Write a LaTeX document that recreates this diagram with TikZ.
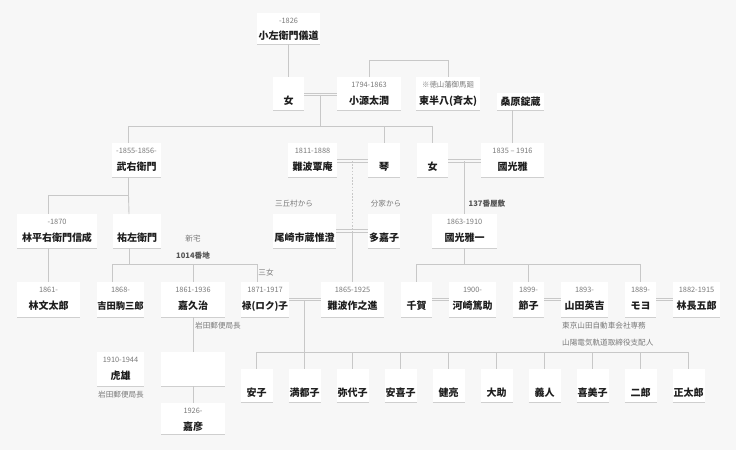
\documentclass[tikz,border=0pt]{standalone}
\usepackage{fontspec}
\setmainfont{Noto Sans CJK JP}
\definecolor{bg}{HTML}{F7F7F7}
\definecolor{ln}{HTML}{C8C8C8}
\definecolor{bl}{HTML}{CFCFCF}
\definecolor{dt}{HTML}{7A7A7A}
\definecolor{nm}{HTML}{1E1E1E}
\definecolor{bn}{HTML}{555555}
\tikzset{
  pbox/.style={fill=white, draw=none, inner sep=0pt, outer sep=0pt},
  bline/.style={draw=bl, line width=0.9pt},
  datet/.style={font=\fontsize{7.4}{9}\selectfont, text=dt, inner sep=0pt},
  namet/.style={font=\fontsize{10}{12}\selectfont\bfseries, text=nm, inner sep=0pt},
  notet/.style={font=\fontsize{7.6}{9}\selectfont, text=dt, inner sep=0pt},
  boldnote/.style={font=\fontsize{7.6}{9}\selectfont\bfseries, text=bn, inner sep=0pt},
  link/.style={draw=ln, line width=0.9pt},
  dotlink/.style={draw=ln, line width=0.9pt, dash pattern=on 1.6pt off 1.6pt},
}
% id, x1, x2, ytop, ybot, date, name
\newcommand\person[7]{%
  \node[pbox, minimum width={(#3)-(#2)}, minimum height={(#5)-(#4)}, anchor=north west] (#1) at (#2,#4) {};
  \draw[bline] (#1.south west) -- (#1.south east);
  \node[datet] (#1-d) at ([yshift=-7.5pt]#1.north) {#6};
  \node[namet] (#1-n) at ([yshift=-24pt]#1.north) {#7};
}
% double marriage line between two nodes, offset dy from centre
\newcommand\marry[3]{%
  \draw[link] ([yshift=#3+1.1pt]#1.east) -- ([yshift=#3+1.1pt]#1.east -| #2.west);
  \draw[link] ([yshift=#3-1.1pt]#1.east) -- ([yshift=#3-1.1pt]#1.east -| #2.west);
}
\begin{document}
\begin{tikzpicture}[x=1pt,y=-1pt]
\fill[bg] (0,0) rectangle (736,450);
\useasboundingbox (0,0) rectangle (736,450);

% row 1
\node[pbox, minimum width=63, minimum height=31, anchor=north west] (kozaemon) at (257,13) {};
\draw[bline] (kozaemon.south west) -- (kozaemon.south east);
\node[datet] (kozaemon-d) at (288.5,20.5) {-1826};
\node[namet] (kozaemon-n) at (288.5,36) {小左衛門儀道};

% row 2
\person{onnaA}{273}{304}{77}{110}{}{女}
\person{kogenta}{337}{401}{77}{110}{1794-1863}{小源太潤}
\person{higashi}{416}{480}{77}{110}{※徳山藩御馬廻}{東半八(斉太)}
\node[pbox, minimum width=47, minimum height=17, anchor=north west] (kuwabara) at (497,93) {};
\draw[bline] (kuwabara.south west) -- (kuwabara.south east);
\node[namet] (kuwabara-n) at (520.5,101.5) {桑原錠蔵};

% row 3
\person{takeemon}{112}{161}{143}{177}{-1855-1856-}{武右衛門}
\person{nanbaT}{288}{337}{143}{177}{1811-1888}{難波覃庵}
\person{koto}{368}{400}{143}{177}{}{琴}
\person{onnaB}{417}{448}{143}{177}{}{女}
\person{kunimitsu}{481}{544}{143}{177}{1835 – 1916}{國光雅}

% row 4
\person{hayashiH}{17}{97}{214}{248}{-1870}{林平右衛門信成}
\person{yuzaemon}{113}{161}{214}{248}{}{祐左衛門}
\person{ozaki}{273}{336}{214}{248}{}{尾崎市蔵惟澄}
\person{takako}{368}{400}{214}{248}{}{多嘉子}
\person{kunimitsuI}{432}{497}{214}{248}{1863-1910}{國光雅一}

% row 5
\person{buntaro}{17}{80}{282}{317}{1861-}{林文太郎}
\person{yoshida}{97}{144}{282}{317}{1868-}{{\fontsize{9.3}{11}\selectfont 吉田駒三郎}}
\person{kakuji}{161}{225}{282}{317}{1861-1936}{嘉久治}
\person{roku}{241}{289}{282}{317}{1871-1917}{{\fontsize{9.6}{11}\selectfont 禄(ロク)子}}
\person{nanbaS}{321}{384}{282}{317}{1865-1925}{難波作之進}
\person{chika}{401}{432}{282}{317}{}{千賀}
\person{kawasaki}{449}{496}{282}{317}{1900-}{河崎篤助}
\person{setsuko}{513}{544}{282}{317}{1899-}{節子}
\person{yamada}{561}{608}{282}{317}{1893-}{山田英吉}
\person{moyo}{625}{656}{282}{317}{1889-}{モヨ}
\person{choGoro}{673}{720}{282}{317}{1882-1915}{林長五郎}

% row 6
\person{torao}{97}{144}{352}{386}{1910-1944}{虎雄}
\person{blank}{161}{225}{352}{386}{}{}

% row 8
\person{yoshihiko}{161}{225}{403}{434}{1926-}{嘉彦}

% children of roku / nanbaS
\foreach \t [count=\i] in {安子,満都子,弥代子,安喜子,健亮,大助,義人,喜美子,二郎,正太郎}{
  \pgfmathsetmacro\xa{240.7+48*(\i-1)}
  \pgfmathsetmacro\xb{\xa+32}
  \person{c\i}{\xa}{\xb}{369}{402}{}{\t}
}

% notes
\node[notet] (n-shintaku) at (193,239) {新宅};
\node[boldnote] (n-1014) at (193,256) {1014番地};
\node[notet] (n-sanjo) at (266,273) {三女};
\node[notet] (n-mitsuoka) at (294,203.5) {三丘村から};
\node[notet] (n-bunke) at (386,203.5) {分家から};
\node[boldnote] (n-137) at (487,204) {137番屋敷};
\node[notet, anchor=west] (n-iwataA) at (195,326) {岩田郵便局長};
\node[notet, anchor=west] (n-iwataB) at (98,394.5) {岩田郵便局長};
\node[notet, anchor=west] (n-tokyo) at (562,326) {東京山田自動車会社専務};
\node[notet, anchor=west] (n-sanyo) at (562,342.5) {山陽電気軌道取締役支配人};

% junction coordinates
\coordinate (m1) at (320,94.6);
\coordinate (bar1) at (0,126);
\coordinate (mNK) at (352.5,161);
\coordinate (mOK) at (352.5,232.1);
\coordinate (mKK) at (464.5,161);
\coordinate (mRN) at (304,300.6);
\coordinate (bar2) at (0,195.3);
\coordinate (bar3) at (0,264.3);
\coordinate (bar4) at (0,264.3);
\coordinate (kidbar) at (0,352);
\coordinate (sib) at (0,60.3);
\coordinate (tkS) at ([xshift=-8pt]takeemon.south);
\coordinate (tkN) at ([xshift=-8pt]takeemon.north);
\coordinate (yzN) at ([xshift=-8pt]yuzaemon.north);
\coordinate (yzS) at ([xshift=-8pt]yuzaemon.south);
\coordinate (ydN) at ([xshift=-8pt]yoshida.north);
\coordinate (rkN) at ([xshift=-8pt]roku.north);
\coordinate (hhN) at (buntaro.north |- hayashiH.north);
\coordinate (hhS) at (buntaro.north |- hayashiH.south);

% connectors
\draw[link] (kozaemon.south) -- (onnaA.north);
\draw[link] (kogenta.north) -- (kogenta.north |- sib) -- (higashi.north |- sib) -- (higashi.north);
\marry{onnaA}{kogenta}{-0.8pt}
\draw[link] (m1) -- (m1 |- bar1);
\draw[link] (tkN |- bar1) -- (onnaB.north |- bar1);
\draw[link] (tkN |- bar1) -- (tkN);
\draw[link] (koto.north |- bar1) -- (koto.north);
\draw[link] (onnaB.north |- bar1) -- (onnaB.north);
\marry{nanbaT}{koto}{-1pt}
\draw[dotlink] (mNK) -- (mOK);
\marry{onnaB}{kunimitsu}{-1pt}
\draw[link] (mKK) -- (mKK |- kunimitsuI.north);
\draw[link] (kunimitsu.north) -- (kunimitsu.north |- kuwabara.south);
\marry{ozaki}{takako}{0pt}
\draw[link] (mOK) -- (nanbaS.north);

\draw[link] (tkS) -- (tkS |- bar2) -- (hhN |- bar2) -- (hhN);
\draw[link] (tkS |- bar2) -- (yzN);
\draw[link] (hhS) -- (buntaro.north);

\draw[link] (yzS) -- (yzS |- bar3);
\draw[link] (ydN |- bar3) -- (rkN |- bar3);
\draw[link] (ydN |- bar3) -- (ydN);
\draw[link] (kakuji.north |- bar3) -- (kakuji.north);
\draw[link] (rkN |- bar3) -- (rkN);

\marry{roku}{nanbaS}{0pt}
\draw[link] (mRN) -- (mRN |- kidbar);
\draw[link] (c1.north |- kidbar) -- (c10.north |- kidbar);
\foreach \i in {1,...,10}{\draw[link] (c\i.north |- kidbar) -- (c\i.north);}

\draw[link] (kunimitsuI.south) -- (kunimitsuI.south |- bar4);
\draw[link] (chika.north |- bar4) -- (moyo.north |- bar4);
\draw[link] (chika.north |- bar4) -- (chika.north);
\draw[link] (setsuko.north |- bar4) -- (setsuko.north);
\draw[link] (moyo.north |- bar4) -- (moyo.north);
\marry{chika}{kawasaki}{0pt}
\marry{setsuko}{yamada}{0pt}
\marry{moyo}{choGoro}{0pt}

\draw[link] (kakuji.south) -- (blank.north);
\draw[link] (blank.south) -- (yoshihiko.north);
\end{tikzpicture}
\end{document}
